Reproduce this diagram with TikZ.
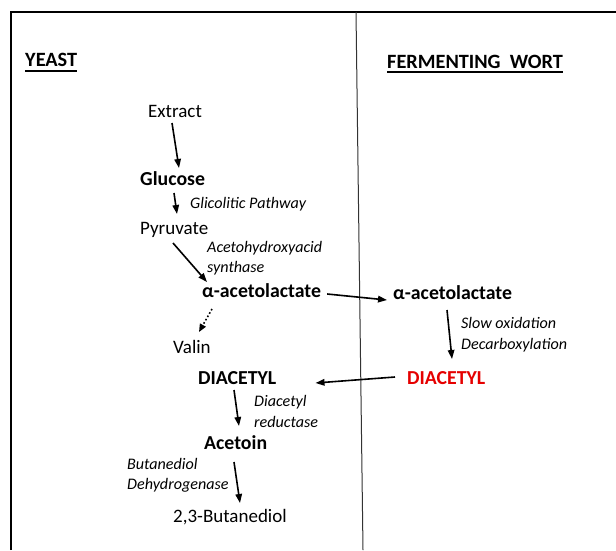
\documentclass[tikz,border=0pt]{standalone}
\usepackage{fontspec}
\setmainfont{Carlito}
\usetikzlibrary{arrows.meta}
\tikzset{
  reg/.style={anchor=base west, inner sep=0pt, font=\fontsize{19}{22}\selectfont},
  bld/.style={reg, font=\fontsize{19.8}{22}\selectfont\bfseries},
  lbl/.style={anchor=base west, inner sep=0pt, font=\fontsize{16.1}{18}\selectfont\itshape},
  head/.style={anchor=base west, inner sep=0pt, font=\fontsize{20.3}{22}\selectfont\bfseries},
  arr/.style={line width=1.6pt, -{Triangle[length=9pt,width=6.5pt]}},
  frame/.style={line width=2pt},
}
\begin{document}
\begin{tikzpicture}[x=1pt,y=-1pt]
\useasboundingbox (0,0) rectangle (616,550);
% frame
\draw[frame] (11,550) -- (11,12) -- (616,12);
\draw[line width=1pt, black!80] (356,12) -- (363,550);
% headings
\node[head] (yeast) at (25,66) {YEAST};
\draw[line width=1.2pt] (yeast.base west) ++(0,5) coordinate (yu1) -- (yu1 -| yeast.base east);
\node[head] (wort) at (387,68) {FERMENTING\hspace{0.45em}WORT};
\draw[line width=1.2pt] (wort.base west) ++(0,4) coordinate (wu1) -- (wu1 -| wort.base east);
% nodes
\node[reg] (extract) at (148,117) {Extract};
\node[bld] (glucose) at (140,185.5) {Glucose};
\node[lbl] (glic) at (190,208) {Glicolitic Pathway};
\node[reg] (pyruvate) at (140,234) {Pyruvate};
\node[lbl] (aha1) at (207,252) {Acetohydroxyacid};
\node[lbl] (aha2) at (207,272) {synthase};
\node[bld] (alpha1) at (202,297) {α-acetolactate};
\node[bld] (alpha2) at (393,299) {α-acetolactate};
\node[lbl] (slow1) at (461,328) {Slow oxidation};
\node[lbl] (slow2) at (461,349) {Decarboxylation};
\node[reg] (valin) at (173,353) {Valin};
\node[bld] (diac) at (198,384) {DIACETYL};
\node[bld, text=red!90!black] (diacred) at (407,384) {DIACETYL};
\node[lbl] (dr1) at (254,406) {Diacetyl};
\node[lbl] (dr2) at (254,427) {reductase};
\node[bld] (acetoin) at (204,449) {Acetoin};
\node[lbl] (bd1) at (127,469) {Butanediol};
\node[lbl] (bd2) at (127,489) {Dehydrogenase};
\node[reg] (butane) at (173,522) {2,3-Butanediol};
% arrows
\draw[arr] ([shift={(24,6)}]extract.base west) -- ([shift={(39,-17.5)}]glucose.base west);
\draw[arr] ([shift={(34,7.5)}]glucose.base west) -- ([shift={(37,-20)}]pyruvate.base west);
\draw[arr] ([shift={(33,9)}]pyruvate.base west) -- ([shift={(5,-15)}]alpha1.base west);
\draw[arr] ([shift={(6,-3)}]alpha1.base east) -- ([shift={(-6,1)}]alpha2.base west);
\draw[line width=1.6pt, dash pattern=on 1.6pt off 2.2pt, -{Triangle[length=8pt,width=6.5pt]}] ([shift={(10,12)}]alpha1.base west) -- ([shift={(26,-21)}]valin.base west);
\draw[arr] ([shift={(54,11)}]alpha2.base west) -- ([shift={(45,-25)}]diacred.base west);
\draw[arr] ([shift={(-12,-7)}]diacred.base west) -- ([shift={(39,-1)}]diac.base east);
\draw[arr] ([shift={(36,6)}]diac.base west) -- ([shift={(35,-23)}]acetoin.base west);
\draw[arr] ([shift={(30,13)}]acetoin.base west) -- ([shift={(67,-19)}]butane.base west);
\end{tikzpicture}
\end{document}
